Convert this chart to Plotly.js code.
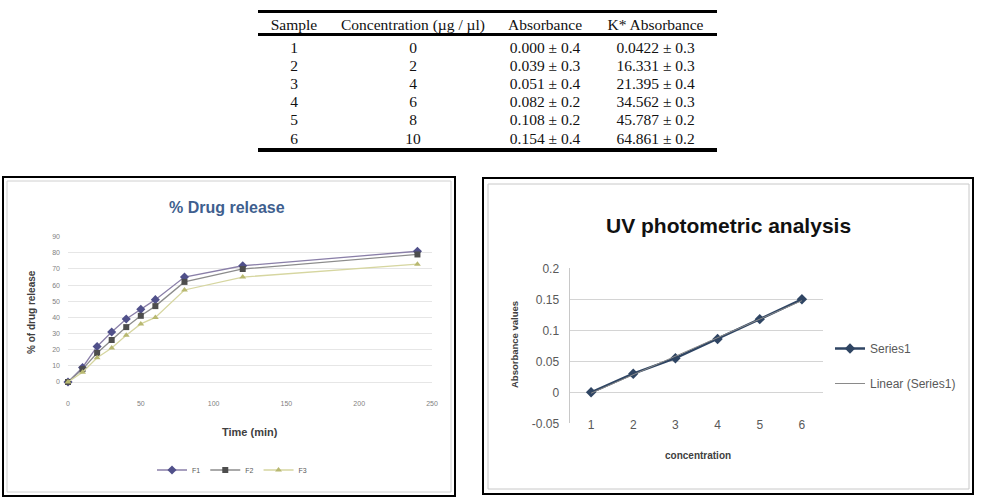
<!DOCTYPE html>
<html><head><meta charset="utf-8">
<script src="https://cdn.plot.ly/plotly-3.0.1.min.js"></script>
<style>html,body{margin:0;padding:0;background:#fff;}#chart{width:981px;height:498px;}</style>
</head><body><div id="chart"></div>
<script>
const W = 981, H = 498;
const px = x => x / W, py = y => 1 - y / H;

// ---- Table data ----
const tableHeader = ["Sample", "Concentration (µg / µl)", "Absorbance", "K* Absorbance"];
const sampleNo = ["1", "2", "3", "4", "5", "6"];
const concentration = ["0", "2", "4", "6", "8", "10"];
const absorbance = ["0.000 ± 0.4", "0.039 ± 0.3", "0.051 ± 0.4", "0.082 ± 0.2", "0.108 ± 0.2", "0.154 ± 0.4"];
const kAbsorbance = ["0.0422 ± 0.3", "16.331 ± 0.3", "21.395 ± 0.4", "34.562 ± 0.3", "45.787 ± 0.2", "64.861 ± 0.2"];

// ---- % Drug release data ----
const timeMin = [0, 10, 20, 30, 40, 50, 60, 80, 120, 240];
const releaseF1 = [0, 9, 22, 31, 39, 45, 51, 65, 72, 81];
const releaseF2 = [0, 8, 18, 26, 34, 41, 47, 62, 70, 79];
const releaseF3 = [0, 6, 15, 21, 29, 36, 40, 57, 65, 73];
const drugSeriesNames = ["F1", "F2", "F3"];
const drugXTicks = [0, 50, 100, 150, 200, 250];
const drugYTicks = [0, 10, 20, 30, 40, 50, 60, 70, 80, 90];

// ---- UV photometric data ----
const uvConc = [1, 2, 3, 4, 5, 6];
const uvConcLabels = ["1", "2", "3", "4", "5", "6"];
const uvAbs = [0, 0.03, 0.055, 0.086, 0.118, 0.15];
const uvYTicks = [-0.05, 0, 0.05, 0.1, 0.15, 0.2];
const uvYTickText = ["-0.05", "0", "0.05", "0.1", "0.15", "0.2"];

// Linear trendline (least squares fit of the series, as Excel does)
const n = uvConc.length;
const mx = uvConc.reduce((a, b) => a + b, 0) / n;
const my = uvAbs.reduce((a, b) => a + b, 0) / n;
let sxy = 0, sxx = 0;
for (let i = 0; i < n; i++) { sxy += (uvConc[i] - mx) * (uvAbs[i] - my); sxx += (uvConc[i] - mx) ** 2; }
const slope = sxy / sxx, icpt = my - slope * mx;
const trendY = uvConc.map(x => icpt + slope * x);

const serif = "Liberation Serif, Times New Roman, serif";
const sans = "Liberation Sans, Arial, sans-serif";
const clear = "rgba(0,0,0,0)";

const traces = [
  {
    type: "table",
    domain: { x: [px(258), px(717)], y: [py(170), py(10)] },
    columnwidth: [72, 166, 98, 123],
    header: {
      values: tableHeader, align: "center", height: 23,
      fill: { color: clear }, line: { color: clear, width: 0 },
      font: { family: serif, size: 15.5, color: "#111" }
    },
    cells: {
      values: [sampleNo, concentration, absorbance, kAbsorbance], align: "center", height: 18.2,
      fill: { color: clear }, line: { color: clear, width: 0 },
      font: { family: serif, size: 15.5, color: "#111" }
    }
  },
  {
    type: "scatter", mode: "lines+markers", name: drugSeriesNames[0], x: timeMin, y: releaseF1,
    xaxis: "x", yaxis: "y", legend: "legend", cliponaxis: false,
    line: { color: "#8a7fa8", width: 1.3 }, marker: { symbol: "diamond", size: 7, color: "#50508a" }
  },
  {
    type: "scatter", mode: "lines+markers", name: drugSeriesNames[1], x: timeMin, y: releaseF2,
    xaxis: "x", yaxis: "y", legend: "legend", cliponaxis: false,
    line: { color: "#8c8c8c", width: 1.3 }, marker: { symbol: "square", size: 6, color: "#4d4d4d" }
  },
  {
    type: "scatter", mode: "lines+markers", name: drugSeriesNames[2], x: timeMin, y: releaseF3,
    xaxis: "x", yaxis: "y", legend: "legend", cliponaxis: false,
    line: { color: "#d6d6a0", width: 1.3 }, marker: { symbol: "triangle-up", size: 6, color: "#b8b870" }
  },
  {
    type: "scatter", mode: "lines+markers", name: "Series1", x: uvConc, y: uvAbs,
    xaxis: "x2", yaxis: "y2", legend: "legend2", legendgroup: "a", cliponaxis: false,
    line: { color: "#2f4563", width: 2.5 }, marker: { symbol: "diamond", size: 8, color: "#2f4563" }
  },
  {
    type: "scatter", mode: "lines", name: "Linear (Series1)", x: uvConc, y: trendY,
    xaxis: "x2", yaxis: "y2", legend: "legend2", legendgroup: "b", cliponaxis: false,
    line: { color: "#8a8a8a", width: 1 }
  }
];

const ann = (text, x, y, size, opts) => Object.assign({
  text: text, xref: "paper", yref: "paper", x: px(x), y: py(y), showarrow: false,
  xanchor: "center", yanchor: "middle", font: { family: sans, size: size, color: "#404040" }
}, opts || {});

const layout = {
  width: W, height: H, margin: { l: 0, r: 0, t: 0, b: 0 },
  paper_bgcolor: "white", plot_bgcolor: clear,
  xaxis: {
    domain: [px(68), px(432)], range: [0, 250], tickvals: drugXTicks, anchor: "y",
    showgrid: false, zeroline: false, showline: false, ticks: "",
    tickfont: { family: sans, size: 7, color: "#7f7f7f" }, ticklabelstandoff: 16, fixedrange: true
  },
  yaxis: {
    domain: [py(382), py(236.7)], range: [0, 90], tickvals: drugYTicks, anchor: "x",
    showgrid: true, gridcolor: "#e6e6e6", gridwidth: 1, zeroline: true, zerolinecolor: "#e6e6e6",
    showline: false, ticks: "", tickfont: { family: sans, size: 7, color: "#7f7f7f" },
    ticklabelstandoff: 7, fixedrange: true
  },
  xaxis2: {
    domain: [px(570), px(823)], range: [0.5, 6.5], tickvals: uvConc, ticktext: uvConcLabels, anchor: "y2",
    showgrid: false, zeroline: false, showline: false, ticks: "",
    tickfont: { family: sans, size: 12, color: "#595959" }, ticklabelstandoff: -7, fixedrange: true
  },
  yaxis2: {
    domain: [py(423.3), py(268.3)], range: [-0.05, 0.2], tickvals: uvYTicks, ticktext: uvYTickText, anchor: "x2",
    showgrid: true, gridcolor: "#d4d4d4", gridwidth: 1.5, zeroline: true, zerolinecolor: "#d4d4d4", zerolinewidth: 1.5,
    showline: true, linecolor: "#c8c8c8", linewidth: 1.5, ticks: "",
    tickfont: { family: sans, size: 12, color: "#595959" }, ticklabelstandoff: 7, fixedrange: true
  },
  legend: {
    orientation: "h", x: px(152), y: py(470), xanchor: "left", yanchor: "middle",
    font: { family: sans, size: 7, color: "#595959" }, bgcolor: clear, itemwidth: 30
  },
  legend2: {
    x: px(830), y: py(334), xanchor: "left", yanchor: "top", traceorder: "grouped", tracegroupgap: 16,
    font: { family: sans, size: 12, color: "#595959" }, bgcolor: clear, itemwidth: 30
  },
  annotations: [
    ann("<b>% Drug release</b>", 227, 207, 16, { font: { family: sans, size: 16, color: "#3f5f8f" } }),
    ann("<b>% of drug release</b>", 31, 312, 10, { textangle: -90 }),
    ann("<b>Time (min)</b>", 250, 432, 11),
    ann("<b>UV photometric analysis</b>", 728, 225, 21, { font: { family: sans, size: 21, color: "#111" } }),
    ann("<b>Absorbance values</b>", 514, 345, 9.5, { textangle: -90 }),
    ann("<b>concentration</b>", 698, 455, 10)
  ],
  shapes: [
    // table rules
    { type: "line", xref: "paper", yref: "paper", x0: px(258), x1: px(717), y0: py(11.5), y1: py(11.5), line: { color: "#000", width: 3 } },
    { type: "line", xref: "paper", yref: "paper", x0: px(258), x1: px(717), y0: py(34.5), y1: py(34.5), line: { color: "#000", width: 3 } },
    { type: "line", xref: "paper", yref: "paper", x0: px(258), x1: px(717), y0: py(150), y1: py(150), line: { color: "#000", width: 4 } },
    // left chart frame
    { type: "rect", xref: "paper", yref: "paper", x0: px(3), x1: px(455), y0: py(177), y1: py(496), line: { color: "#000", width: 2 } },
    { type: "rect", xref: "paper", yref: "paper", x0: px(7), x1: px(451), y0: py(181), y1: py(492), line: { color: "#d0d0d0", width: 1 } },
    // right chart frame
    { type: "rect", xref: "paper", yref: "paper", x0: px(483), x1: px(973), y0: py(178), y1: py(494), line: { color: "#000", width: 2 } },
    { type: "rect", xref: "paper", yref: "paper", x0: px(488), x1: px(969), y0: py(184), y1: py(489), line: { color: "#c8c8c8", width: 1 } }
  ]
};

Plotly.newPlot("chart", traces, layout, { displayModeBar: false, staticPlot: true });
</script>
</body></html>
